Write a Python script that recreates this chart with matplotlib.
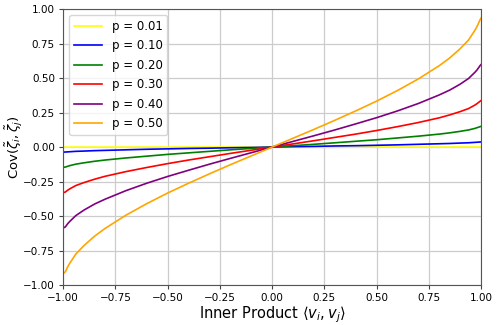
import matplotlib
matplotlib.use("Agg")
import matplotlib.pyplot as plt

# inner product axis (denser near the ends where the curves bend)
inner = [-1.0, -0.998, -0.995, -0.99, -0.98, -0.97, -0.94, -0.9, -0.85, -0.8, -0.7, -0.6,
         -0.5, -0.4, -0.3, -0.2, -0.1, 0.0, 0.1, 0.2, 0.3, 0.4, 0.5, 0.6, 0.7, 0.8, 0.85,
         0.9, 0.94, 0.97, 0.98, 0.99, 0.995, 0.998, 1.0]

labels = ["p = 0.01", "p = 0.10", "p = 0.20", "p = 0.30", "p = 0.40", "p = 0.50"]
colors = ["yellow", "blue", "green", "red", "purple", "orange"]

cov_p01 = [-0.0004, -0.0004, -0.0004, -0.0004, -0.0003, -0.0003, -0.0003, -0.0003, -0.0003,
           -0.0002, -0.0002, -0.0002, -0.0001, -0.0001, -0.0001, -0.0001, 0.0, 0.0, 0.0,
           0.0001, 0.0001, 0.0001, 0.0001, 0.0002, 0.0002, 0.0002, 0.0003, 0.0003, 0.0003,
           0.0003, 0.0003, 0.0004, 0.0004, 0.0004, 0.0004]
cov_p10 = [-0.037, -0.037, -0.036, -0.036, -0.035, -0.034, -0.031, -0.029, -0.026, -0.024,
           -0.020, -0.016, -0.013, -0.010, -0.008, -0.005, -0.003, 0.0, 0.003, 0.005, 0.008,
           0.010, 0.013, 0.016, 0.020, 0.024, 0.026, 0.029, 0.031, 0.034, 0.035, 0.036,
           0.037, 0.037, 0.0375]
cov_p20 = [-0.148, -0.147, -0.146, -0.145, -0.140, -0.135, -0.124, -0.114, -0.103, -0.094,
           -0.079, -0.066, -0.053, -0.042, -0.031, -0.020, -0.010, 0.0, 0.010, 0.020, 0.031,
           0.042, 0.053, 0.066, 0.079, 0.094, 0.103, 0.114, 0.124, 0.135, 0.140, 0.145,
           0.148, 0.149, 0.150]
cov_p30 = [-0.333, -0.330, -0.328, -0.326, -0.314, -0.304, -0.279, -0.257, -0.233, -0.212,
           -0.178, -0.148, -0.120, -0.094, -0.070, -0.046, -0.023, 0.0, 0.023, 0.046, 0.070,
           0.094, 0.120, 0.148, 0.178, 0.212, 0.233, 0.257, 0.279, 0.304, 0.314, 0.326,
           0.332, 0.335, 0.337]
cov_p40 = [-0.589, -0.585, -0.582, -0.579, -0.558, -0.541, -0.497, -0.456, -0.413, -0.378,
           -0.316, -0.262, -0.213, -0.168, -0.124, -0.082, -0.041, 0.0, 0.041, 0.082, 0.124,
           0.168, 0.213, 0.262, 0.316, 0.378, 0.413, 0.456, 0.497, 0.541, 0.558, 0.579,
           0.590, 0.595, 0.598]
cov_p50 = [-0.920, -0.915, -0.910, -0.905, -0.872, -0.845, -0.776, -0.713, -0.646, -0.590,
           -0.494, -0.410, -0.333, -0.262, -0.194, -0.128, -0.064, 0.0, 0.064, 0.128, 0.194,
           0.262, 0.333, 0.410, 0.494, 0.590, 0.646, 0.713, 0.776, 0.845, 0.872, 0.905,
           0.922, 0.930, 0.935]

series = [cov_p01, cov_p10, cov_p20, cov_p30, cov_p40, cov_p50]

fig, ax = plt.subplots(figsize=(4.98, 3.25), dpi=100)
fig.subplots_adjust(left=0.127, right=0.966, top=0.972, bottom=0.123)

for vals, lab, col in zip(series, labels, colors):
    ax.plot(inner, vals, color=col, lw=1.2, label=lab)

ax.set_xlim(-1, 1)
ax.set_ylim(-1, 1)
ticks = [-1, -0.75, -0.5, -0.25, 0, 0.25, 0.5, 0.75, 1]
tick_txt = [f"{t:.2f}".replace("-", "\u2212") for t in ticks]
ax.set_xticks(ticks, tick_txt)
ax.set_yticks(ticks, tick_txt)
ax.tick_params(labelsize=7.5, length=3, pad=3, color="#444444")
ax.grid(True, color="#cccccc", lw=0.9)
for s in ax.spines.values():
    s.set_color("#555555")

ax.set_xlabel(r"Inner Product $\langle v_i, v_j\rangle$", fontsize=10.5, labelpad=1)
ax.set_ylabel(r"Cov$(\tilde{\zeta}_i, \tilde{\zeta}_j)$", fontsize=9.5)
ax.yaxis.set_label_coords(-0.092, 0.5)
ax.legend(loc="upper left", fontsize=8.5, handlelength=2.4, labelspacing=0.55)

fig.savefig("out.png", dpi=100)
